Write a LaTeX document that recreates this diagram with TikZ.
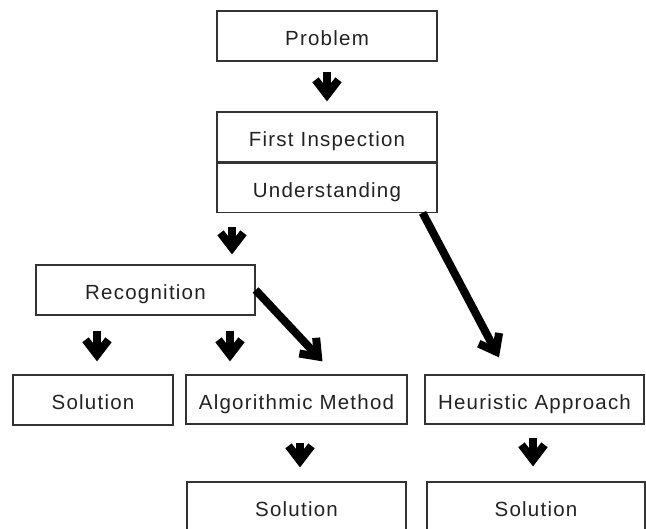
\documentclass[tikz,border=0pt]{standalone}
\usepackage{fontspec}
\setmainfont{Liberation Sans}
\usetikzlibrary{arrows.meta,calc}
\definecolor{boxline}{HTML}{333333}
\definecolor{txt}{HTML}{222222}
\begin{document}
\begin{tikzpicture}[x=1pt,y=-1pt,
  box/.style={draw=boxline, line width=1.2pt, minimum height=50pt, minimum width=220pt,
    inner sep=0pt, text=txt,
    font=\fontsize{20.5}{24}\selectfont\addfontfeature{LetterSpace=6},
    text height=19.5pt, text depth=0pt},
  bigarr/.style={draw=black, line width=8pt, -{Straight Barb[length=15pt,width=23pt]}}]
\useasboundingbox (0,0) rectangle (646,529);
\clip (0,0) rectangle (646,529);
\node[box] (prob) at (327,36) {Problem};
\node[box] (fi) at (327,137) {First Inspection};
\node[box, minimum height=49pt, anchor=north] (und) at (fi.south) {Understanding};
\node[box, minimum width=219pt] (rec) at (145.5,290) {Recognition};
\node[box, minimum width=160pt] (sol1) at (93,400) {Solution};
\node[box, minimum width=221pt, minimum height=49pt] (alg) at (296.5,399.5) {Algorithmic Method};
\node[box, minimum width=219pt, minimum height=49pt] (heu) at (534.5,399.5) {Heuristic Approach};
\node[box, minimum width=219pt] (sol2) at (296.5,507) {Solution};
\node[box, minimum width=218pt] (sol3) at (536,507) {Solution};
\draw[bigarr, shorten <=10pt, shorten >=10pt] (prob.south) -- (fi.north);
\draw[bigarr, shorten <=14pt, shorten >=10pt] (und.south -| 232,0) -- (rec.north -| 232,0);
\draw[bigarr, shorten <=15pt, shorten >=13pt] (rec.south -| 97,0) -- (sol1.north -| 97,0);
\draw[bigarr, shorten <=15pt, shorten >=13pt] (rec.south -| 230,0) -- (alg.north -| 230,0);
\draw[bigarr, shorten <=18pt, shorten >=14pt] (alg.south -| 300,0) -- (sol2.north -| 300,0);
\draw[bigarr, shorten <=13pt, shorten >=15pt] (heu.south -| 533,0) -- (sol3.north -| 533,0);
\draw[bigarr] (rec.east) -- ($(alg.north)+(26,-13)$);
\draw[bigarr] ($(und.south east)+(-15,0)$) -- ($(heu.north)+(-35.5,-17)$);
\end{tikzpicture}
\end{document}
